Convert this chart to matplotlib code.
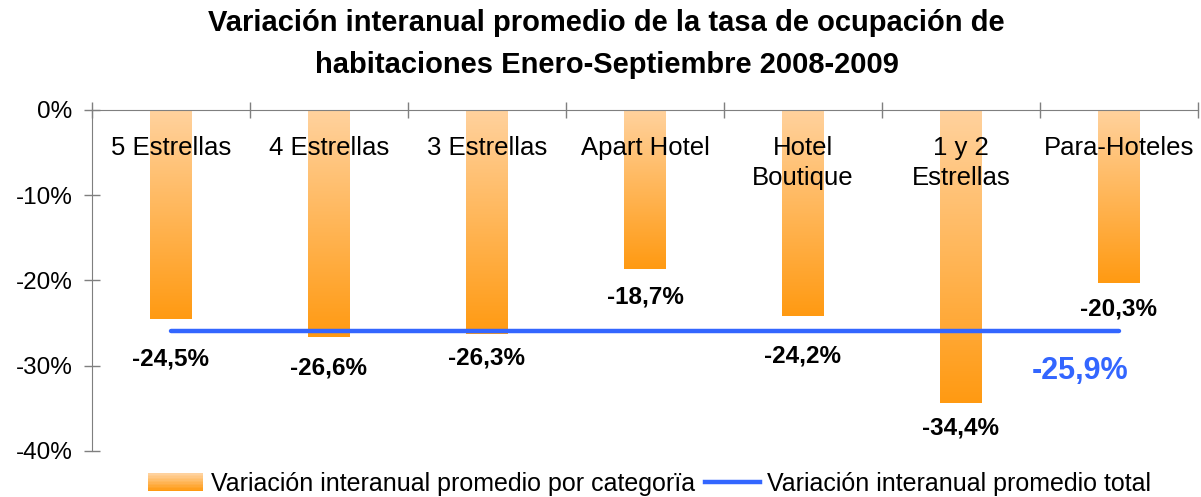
"""
Variación interanual promedio de la tasa de ocupación de habitaciones
"""

import numpy as np
import matplotlib
matplotlib.use('Agg')
import matplotlib.pyplot as plt
from matplotlib.colors import LinearSegmentedColormap
from matplotlib.patches import Rectangle
from matplotlib.lines import Line2D
from matplotlib.legend_handler import HandlerBase

plt.rcParams['font.family'] = ['Liberation Sans', 'DejaVu Sans']

# Datos
categorias = ['5 Estrellas', '4 Estrellas', '3 Estrellas', 'Apart Hotel',
              'Hotel\nBoutique', '1 y 2\nEstrellas', 'Para-Hoteles']
variacion = [-24.5, -26.6, -26.3, -18.7, -24.2, -34.4, -20.3]
total = -25.9
y_ticks = [0, -10, -20, -30, -40]

# Desplazamiento vertical de las etiquetas (pixeles bajo la barra)
desplaz = [40, 31, 24, 28, 40, 25, 26]

cmap = LinearSegmentedColormap.from_list('naranja', ['#FF9A12', '#FFD29E'])
azul = '#3366FF'


class GradientHandler(HandlerBase):
    """Cuadro de leyenda con degradado"""
    def create_artists(self, legend, orig_handle, xdescent, ydescent,
                       width, height, fontsize, trans):
        n = 12
        arts = []
        for i in range(n):
            r = Rectangle((-xdescent, -ydescent + height * i / n), width, height / n + 0.3,
                          facecolor=cmap(i / (n - 1)), edgecolor='none', transform=trans)
            arts.append(r)
        return arts


fig = plt.figure(figsize=(12.01, 4.97), dpi=100)
ax = fig.add_axes([0.0766, 0.0926, 0.9209, 0.6861])

x = np.arange(len(categorias))
ancho = 0.26
grad = np.linspace(0, 1, 256).reshape(-1, 1)

for xi, v in zip(x, variacion):
    bar = ax.bar(xi, v, width=ancho, color='none', edgecolor='none')[0]
    im = ax.imshow(grad, cmap=cmap, aspect='auto', origin='lower',
                   extent=(xi - ancho / 2, xi + ancho / 2, v, 0), zorder=1)
    im.set_clip_path(bar)

ax.plot([x[0], x[-1]], [total, total], color=azul, linewidth=3.2,
        solid_capstyle='round', zorder=3)

for xi, v, d in zip(x, variacion, desplaz):
    ax.annotate(f'{v:.1f}%'.replace('.', ','), (xi, v), xytext=(0, -d * 0.72),
                textcoords='offset points', ha='center', va='center',
                fontsize=17.5, fontweight='bold')

ax.annotate(f'{total:.1f}%'.replace('.', ','), (x[-1], total), xytext=(-28, -29),
            textcoords='offset points', ha='center', va='center',
            fontsize=22, fontweight='bold', color=azul)

for xi, c in zip(x, categorias):
    ax.text(xi, -3.1, c, ha='center', va='top', fontsize=18.5, linespacing=1.3)

ax.set_xlim(-0.5, len(categorias) - 0.5)
ax.set_ylim(-40, 0)
ax.set_yticks(y_ticks)
ax.set_yticklabels([f'{t}%' for t in y_ticks], fontsize=17.5)

ax.xaxis.tick_top()
ax.set_xticks(np.arange(-0.5, len(categorias), 1.0))
ax.set_xticklabels([])
ax.tick_params(axis='both', direction='inout', length=12, color='#7f7f7f', width=1)
ax.tick_params(axis='y', pad=8)

for s in ['bottom', 'right']:
    ax.spines[s].set_visible(False)
for s in ['top', 'left']:
    ax.spines[s].set_color('#7f7f7f')

fig.suptitle('Variación interanual promedio de la tasa de ocupación de\n'
             'habitaciones Enero-Septiembre 2008-2009',
             x=0.505, y=0.982, fontsize=21, fontweight='bold', linespacing=1.65)

handles = [Rectangle((0, 0), 1, 1), Line2D([], [], color=azul, linewidth=3.2)]
labels = ['Variación interanual promedio por categorïa', 'Variación interanual promedio total']
fig.legend(handles, labels, loc='center', bbox_to_anchor=(0.541, 0.026), ncol=2,
           frameon=False, fontsize=18, handlelength=2.2, handletextpad=0.3,
           columnspacing=0.4, handler_map={Rectangle: GradientHandler()})

fig.savefig('out.png', dpi=100)
